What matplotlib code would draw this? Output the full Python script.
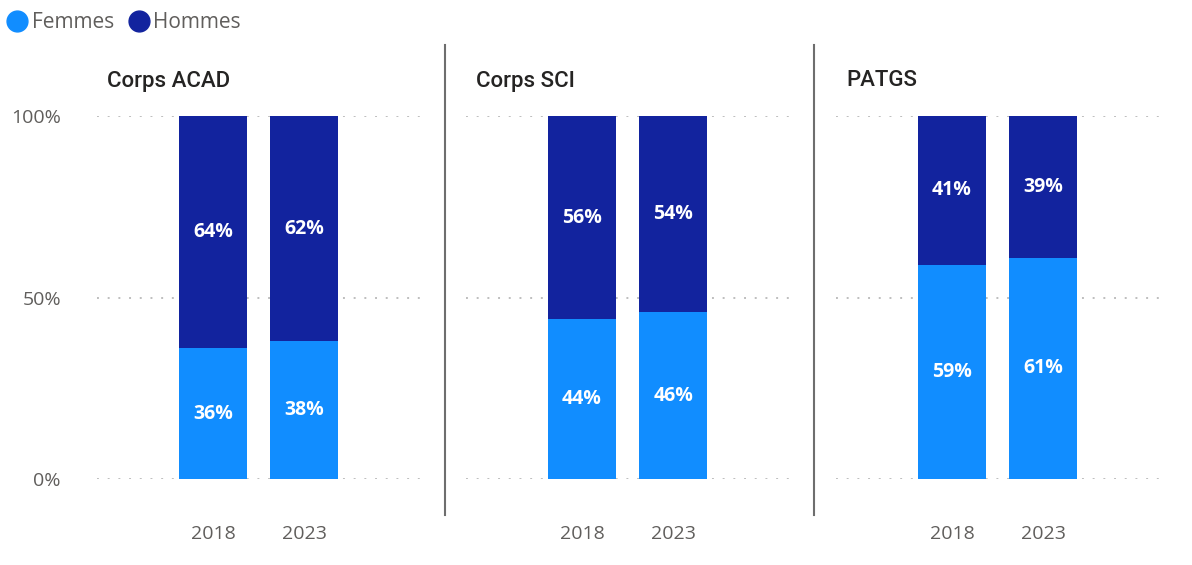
import matplotlib.pyplot as plt
from matplotlib.lines import Line2D

# data
groups = ["Corps ACAD", "Corps SCI", "PATGS"]
years = ["2018", "2023"]
femmes = [[36, 38], [44, 46], [59, 61]]
hommes = [[64, 62], [56, 54], [41, 39]]

colF = "#118DFF"
colH = "#12239E"
grey = "#605E5C"

plt.rcParams['font.family'] = ['Open Sans', 'DejaVu Sans']

W, H = 1192, 565
fig = plt.figure(figsize=(W / 100, H / 100), dpi=100)

# axes boxes in pixels (left, right), y from 116 (100%) to 479 (0%)
boxes = [(97, 420), (466, 789), (836, 1159)]
top, bot = 116, 479

for i, (x0, x1) in enumerate(boxes):
    ax = fig.add_axes([x0 / W, 1 - bot / H, (x1 - x0) / W, (bot - top) / H])
    pos = [0, 1]
    ax.bar(pos, femmes[i], width=0.75, color=colF, zorder=2)
    ax.bar(pos, hommes[i], width=0.75, bottom=femmes[i], color=colH, zorder=2)
    for p, f, h in zip(pos, femmes[i], hommes[i]):
        ax.text(p, f / 2, f"{f}%", ha='center', va='center', color='white',
                fontsize=14, fontweight='bold')
        ax.text(p, f + h / 2, f"{h}%", ha='center', va='center', color='white',
                fontsize=14, fontweight='bold')
    ax.set_xlim(-1.27, 2.27)
    ax.set_ylim(0, 100)
    for yv in [0, 50, 100]:
        ax.axhline(yv, color='#BEBEBE', lw=1.4, ls=(0, (1, 4.5)), zorder=1)
    ax.set_xticks(pos)
    ax.set_xticklabels(years, color=grey, fontsize=14)
    ax.tick_params(axis='x', length=0, pad=33)
    if i == 0:
        ax.set_yticks([0, 50, 100])
        ax.set_yticklabels(["0%", "50%", "100%"], color=grey, fontsize=14)
        ax.tick_params(axis='y', length=0, pad=26)
    else:
        ax.set_yticks([])
    for s in ax.spines.values():
        s.set_visible(False)
    fig.text((x0 + 10) / W, 1 - 81 / H, groups[i], fontsize=16, color='#252423',
             ha='left', va='center', family=['Roboto', 'DejaVu Sans'],
             fontweight='medium')

# separators
for xs in [445, 814]:
    fig.add_artist(Line2D([xs / W, xs / W], [1 - 45 / H, 1 - 515 / H],
                          color='#6E6E6E', lw=1.5))

handles = [Line2D([], [], marker='o', ls='', color=colF, markersize=15),
           Line2D([], [], marker='o', ls='', color=colH, markersize=15)]
fig.legend(handles, ["Femmes", "Hommes"], loc='upper left',
           bbox_to_anchor=(-0.012, 0.997), ncol=2, frameon=False, fontsize=15,
           handletextpad=-0.3, columnspacing=0.2, labelcolor=grey,
           borderaxespad=0.1)

fig.savefig("out.png", dpi=100)
